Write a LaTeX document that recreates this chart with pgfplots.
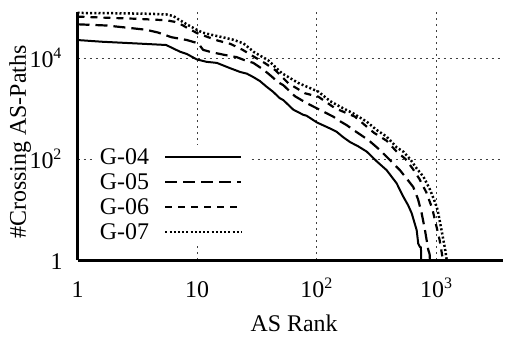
\documentclass[border=0pt]{standalone}
\usepackage{fontspec}
\setmainfont{Liberation Serif}
\usepackage{pgfplots}
\pgfplotsset{compat=1.18}
\begin{document}
\begin{tikzpicture}[font=\fontsize{12}{14}\selectfont]
\begin{axis}[
  scale only axis,
  width=212.75bp, height=124.15bp,
  xmode=log, ymode=log,
  xmin=1, xmax=3590, ymin=1, ymax=82600,
  axis x line*=bottom, axis y line*=left,
  axis line style={line width=1.5bp, -},
  xtick={1,10,100,1000},
  xticklabels={1,10,10\textsuperscript{2},10\textsuperscript{3}},
  ytick={1,100,10000},
  yticklabels={1,10\textsuperscript{2},10\textsuperscript{4}},
  xminorticks=false, yminorticks=false,
  major tick length=0pt,
  grid=major,
  grid style={line width=0.5bp, dash pattern=on 1.2bp off 1.8bp, black!75},
  xticklabel style={anchor=base, yshift=-18.5bp},
  yticklabel style={anchor=base east, xshift=-4bp, yshift=-4.6bp},
  xlabel={AS Rank}, ylabel={\#Crossing AS-Paths},
  every axis x label/.style={at={(axis description cs:0.509,0)}, anchor=base, yshift=-35.5bp},
  every axis y label/.style={at={(axis description cs:-0.135,0.475)}, rotate=90, anchor=center},
  legend plot pos=right,
  legend cell align=right,
  legend image code/.code={\draw[#1] (0bp,0bp) -- (38bp,0bp);},
  legend style={at={(axis description cs:0,0)}, anchor=south east, xshift=86bp, yshift=7.5bp,
    fill=white, draw=none, inner xsep=3.25bp, inner ysep=0pt, row sep=0pt, column sep=7.5bp,
    nodes={inner xsep=0pt, inner ysep=0pt, text height=10bp, text depth=2.5bp}},
]
\addplot[black, line width=1bp, line join=round] coordinates {
(1,22700) (1.6,21000) (3,19500) (5.5,18100) (6.3,15500) (7.2,13300) (8.2,12000) (9.9,9400) (12,8400) (14.6,8000) (18.8,6300) (22.8,5300) (26,4900) (29.4,4200) (33.4,3500) (38,2700) (43,2150) (49,1600) (52.4,1470) (63.5,950) (77,750) (82,720) (100,530) (128,405) (146,347) (166,270) (190,215) (220,180) (261,140) (316,90) (383,60) (464,33) (527,18) (580,12) (620,8.4) (682,3.9) (703,2.1) (727,1.8) (740,1.8) (745,1)
};
\addlegendentry{G-04}
\addplot[black, line width=1.1bp, line join=round, dash pattern=on 6bp off 3bp] coordinates {
(1,46500) (1.75,44000) (2.64,39700) (3.73,36300) (4.7,32000) (6.1,25800) (8.2,22700) (10.2,19500) (11.2,14500) (13.2,13000) (17,11500) (21.4,10400) (25,9000) (27.6,8400) (29.4,8000) (35.7,5900) (41,4500) (47.6,3300) (52.4,2900) (65.6,1750) (82,1280) (106,940) (137,690) (156,560) (177,470) (215,340) (269,238) (337,150) (408,95) (494,60) (545,45) (638,28) (700,16) (751,8.4) (800,3.9) (852,1.6) (875,1.3) (880,1)
};
\addlegendentry{G-05}
\addplot[black, line width=1.1bp, line join=round, dash pattern=on 3.5bp off 3bp] coordinates {
(1,66000) (2,62000) (3,60000) (4,58000) (5.5,56000) (6.5,52000) (7.5,45000) (8.5,38000) (10,31000) (12,26500) (15,22000) (19,19000) (24,14500) (30,10500) (37,7850) (44.7,5800) (57.8,3160) (79.7,2000) (103,1710) (142,1010) (208,690) (300,330) (383,230) (464,140) (550,100) (630,65) (720,40) (820,22) (920,10.5) (990,5) (1060,2.5) (1110,1.3) (1130,1)
};
\addlegendentry{G-06}
\addplot[black, line width=1.25bp, line join=round, dash pattern=on 1bp off 1.1bp] coordinates {
(1,78000) (2,77000) (3,76000) (4,75000) (5.5,73000) (6.3,68000) (7,58000) (8,48000) (9,41000) (10,36000) (11,32000) (13,29000) (16,26000) (20,23000) (24.3,19500) (30,13000) (35,10500) (39,9100) (51,5000) (70,3200) (103,2150) (129,1400) (156,1090) (201,800) (261,548) (316,375) (383,277) (464,170) (527,140) (600,100) (682,65) (775,45) (880,25) (970,14) (1020,9.8) (1100,3.9) (1180,1.6) (1215,1)
};
\addlegendentry{G-07}
\coordinate (ll) at (rel axis cs:0,0);
\coordinate (ur) at (rel axis cs:1,1);
\end{axis}
\pgfresetboundingbox
\path[use as bounding box] ([shift={(-38.75bp,-38.5bp)}]ll) rectangle ([shift={(1.5bp,5.85bp)}]ur);
\end{tikzpicture}
\end{document}
